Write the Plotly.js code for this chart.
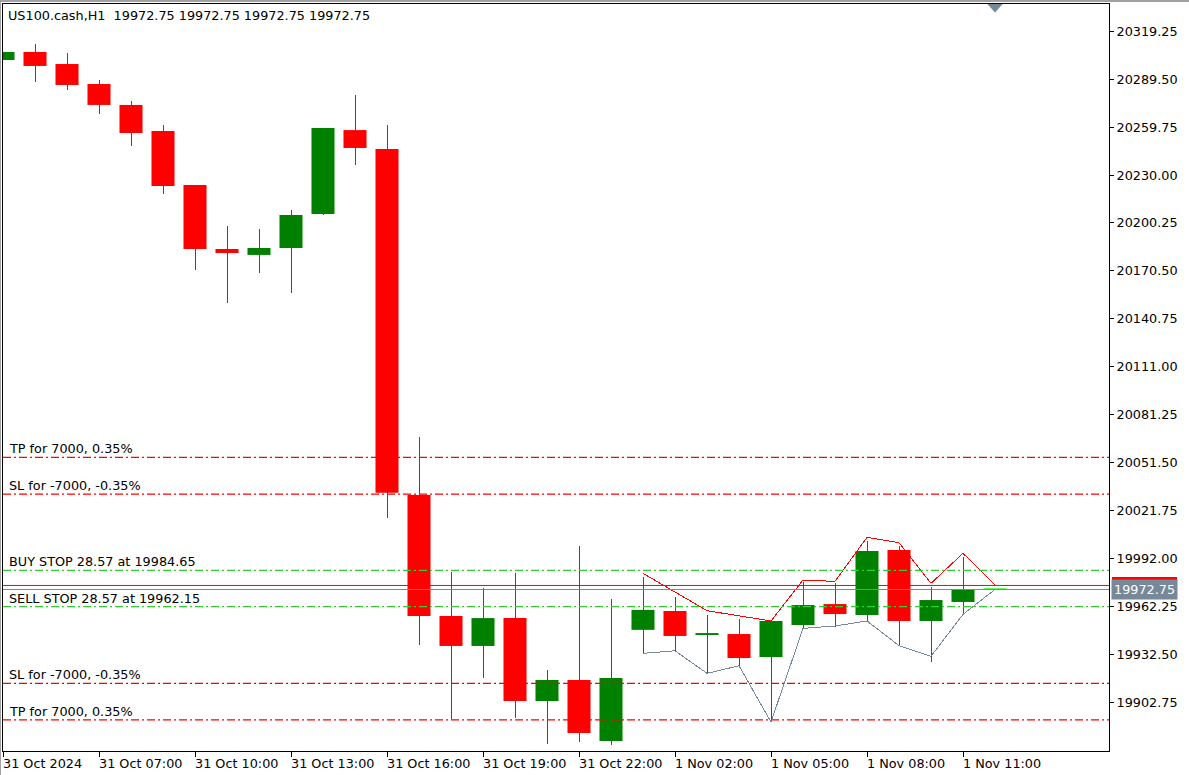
<!DOCTYPE html>
<html>
<head>
<meta charset="utf-8">
<script src="https://cdn.plot.ly/plotly-3.0.1.min.js"></script>
<style>
html, body { margin: 0; padding: 0; background: #fff; }
#chart { width: 1189px; height: 775px; }
/* pixel-sharp wicks and indicator lines like the terminal */
#chart .scatterlayer path { shape-rendering: crispEdges; }
</style>
</head>
<body>
<div id="chart"></div>
<script>
// H1 bars, US100.cash
const openP = [20301.4, 20306.4, 20298.9, 20286.5, 20273.5, 20257.3, 20223.8, 20184.1, 20180.4, 20184.7, 20205.8, 20257.9, 20246.2, 20031.4, 19956.3, 19937.7, 19955.0, 19903.5, 19916.6, 19878.7, 19947.7, 19959.4, 19944.5, 19945.1, 19930.8, 19950.7, 19963.7, 19956.9, 19997.3, 19953.2, 19965.0, 19972.75];
const highP = [20306.4, 20311.3, 20305.7, 20289.0, 20276.0, 20261.1, 20223.8, 20198.4, 20196.5, 20208.3, 20259.2, 20279.7, 20261.1, 20067.4, 19983.6, 19973.7, 19983.0, 19922.8, 19999.7, 19966.8, 19980.5, 19968.1, 19956.9, 19954.5, 19953.2, 19977.4, 19976.8, 20002.8, 19999.7, 19974.3, 19992.9, 19972.75];
const lowP = [20301.4, 20287.7, 20282.8, 20267.9, 20248.0, 20218.2, 20171.1, 20150.6, 20169.2, 20156.8, 20205.2, 20236.2, 20017.3, 19938.3, 19892.4, 19917.8, 19893.0, 19876.8, 19878.1, 19876.2, 19932.7, 19934.6, 19920.3, 19925.2, 19890.7, 19948.3, 19949.5, 19952.6, 19937.7, 19928.0, 19956.9, 19972.75];
const closeP = [20306.4, 20297.7, 20285.9, 20273.5, 20256.1, 20223.2, 20184.1, 20181.6, 20184.7, 20205.2, 20259.2, 20246.8, 20032.8, 19956.3, 19937.7, 19955.0, 19903.5, 19916.6, 19883.7, 19917.8, 19960.1, 19943.9, 19945.7, 19930.2, 19953.2, 19963.1, 19957.5, 19996.6, 19953.2, 19966.2, 19972.5, 19972.75];

// indicator lines on the last bars
const upperIdx = [20, 22, 24, 25, 26, 27, 28, 29, 30, 31];
const upperVals = [19982.8, 19959.6, 19953.2, 19978.6, 19977.8, 20005.1, 20001.8, 19976.6, 19995.2, 19975.7];
const lowerIdx = [20, 21, 22, 23, 24, 25, 26, 27, 28, 29, 30, 31];
const lowerVals = [19933.1, 19934.7, 19920.7, 19925.4, 19890.5, 19948.6, 19950.1, 19953.2, 19937.9, 19931.3, 19957.3, 19972.75];

// order levels
const levelNames = ['TP for 7000, 0.35%', 'SL for -7000, -0.35%', 'BUY STOP 28.57 at 19984.65', 'SELL STOP 28.57 at 19962.15', 'SL for -7000, -0.35%', 'TP for 7000, 0.35%'];
const levelPrices = [20054.8, 20032.0, 19984.65, 19962.15, 19914.5, 19891.8];
const levelKinds = ['tp', 'sl', 'stop', 'stop', 'sl', 'tp'];

const bid = 19972.75;
const ask = 19975.25;

const xTickText = ['31 Oct 2024', '31 Oct 07:00', '31 Oct 10:00', '31 Oct 13:00', '31 Oct 16:00', '31 Oct 19:00', '31 Oct 22:00', '1 Nov 02:00', '1 Nov 05:00', '1 Nov 08:00', '1 Nov 11:00'];
const yTicks = [20319.25, 20289.50, 20259.75, 20230.00, 20200.25, 20170.50, 20140.75, 20111.00, 20081.25, 20051.50, 20021.75, 19992.00, 19962.25, 19932.50, 19902.75];

const UP = '#008000', DOWN = '#FF0000', DOJI = '#00FF00';
const FONT = 'DejaVu Sans, Tahoma, sans-serif';
const FS = 12.8;

const idx = openP.map((_, i) => i);
const bodyColor = idx.map(i => closeP[i] > openP[i] ? UP : (closeP[i] < openP[i] ? DOWN : DOJI));

// wicks, one trace per colour
function wickTrace(color) {
    const x = [], y = [];
    idx.forEach(i => {
        if (bodyColor[i] !== color) return;
        x.push(i, i, null);
        y.push(lowP[i], highP[i], null);
    });
    return { x, y, type: 'scatter', mode: 'lines', line: { color, width: 1 }, hoverinfo: 'skip', showlegend: false };
}

const bodies = {
    x: idx,
    base: idx.map(i => Math.min(openP[i], closeP[i])),
    y: idx.map(i => Math.max(Math.abs(closeP[i] - openP[i]), 0.7)),
    type: 'bar',
    width: 0.72,
    marker: { color: bodyColor, line: { width: 0 } },
    hoverinfo: 'skip',
    showlegend: false
};

const upperLine = { x: upperIdx, y: upperVals, type: 'scatter', mode: 'lines', line: { color: '#FF0000', width: 1 }, hoverinfo: 'skip', showlegend: false };
const lowerLine = { x: lowerIdx, y: lowerVals, type: 'scatter', mode: 'lines', line: { color: '#778899', width: 1 }, hoverinfo: 'skip', showlegend: false };

const PW = 1106, PH = 747; // plot area in px
const shapes = [];
const annotations = [];

// window frame (grey strip on top and left)
shapes.push({ type: 'rect', xref: 'paper', yref: 'paper', x0: -3 / PW, x1: 1 + 80 / PW, y0: 1 + 2 / PH, y1: 1 + 4 / PH, fillcolor: '#a0a0a0', line: { width: 0 } });
shapes.push({ type: 'rect', xref: 'paper', yref: 'paper', x0: -3 / PW, x1: -2 / PW, y0: -24 / PH, y1: 1 + 4 / PH, fillcolor: '#a0a0a0', line: { width: 0 } });

levelPrices.forEach((p, k) => {
    const col = levelKinds[k] === 'stop' ? '#32CD32' : '#FF0000';
    shapes.push({ type: 'line', xref: 'paper', x0: 0, x1: 1, yref: 'y', y0: p, y1: p, line: { color: col, width: 1.2, dash: '8px,3px,2px,3px' } });
    annotations.push({ xref: 'paper', x: 0, xanchor: 'left', xshift: 4, yref: 'y', y: p, yanchor: 'bottom', yshift: -1,
        text: levelNames[k], showarrow: false, font: { family: FONT, size: FS, color: '#000' } });
});

// ask / bid lines
shapes.push({ type: 'line', xref: 'paper', x0: 0, x1: 1, yref: 'y', y0: ask, y1: ask, line: { color: '#FF0000', width: 1 } });
shapes.push({ type: 'line', xref: 'paper', x0: 0, x1: 1, yref: 'y', y0: bid, y1: bid, line: { color: '#778899', width: 1 } });

// ask price box, mostly hidden behind the bid box
shapes.push({ type: 'rect', xref: 'paper', x0: 1 + 3 / PW, x1: 1 + 68 / PW, yref: 'y', y0: ask - 5.3, y1: ask + 5.3, fillcolor: '#FF0000', line: { width: 0 } });

// chart shift marker
shapes.push({ type: 'path', xref: 'x', yref: 'paper', path: 'M 30.76 1 L 31.24 1 L 31 0.9886 Z', fillcolor: '#778899', line: { width: 0 } });

annotations.push({ xref: 'paper', x: 1, xanchor: 'left', xshift: 2, yref: 'y', y: bid, yanchor: 'middle',
    text: bid.toFixed(2), showarrow: false, bgcolor: '#778899', borderpad: 2, font: { family: FONT, size: FS, color: '#fff' } });

// time labels, left aligned on their tick like the terminal does
xTickText.forEach((t, k) => {
    annotations.push({ xref: 'x', x: k * 3, xanchor: 'left', xshift: -2, yref: 'paper', y: 0, yanchor: 'top', yshift: -3,
        text: t, showarrow: false, font: { family: FONT, size: FS, color: '#000' } });
});

annotations.push({ xref: 'paper', x: 0, xanchor: 'left', xshift: 3, yref: 'paper', y: 1, yanchor: 'top', yshift: -2,
    text: 'US100.cash,H1\u00a0\u00a0' + [openP, highP, lowP, closeP].map(a => a[a.length - 1].toFixed(2)).join(' '),
    showarrow: false, font: { family: FONT, size: FS, color: '#000' } });

const layout = {
    width: 1189,
    height: 775,
    margin: { l: 3, r: 80, t: 4, b: 24 },
    paper_bgcolor: '#fff',
    plot_bgcolor: '#fff',
    showlegend: false,
    hovermode: false,
    xaxis: {
        range: [0, 34.5625],
        tickvals: xTickText.map((_, k) => k * 3),
        showticklabels: false,
        ticks: 'outside', ticklen: 5, tickcolor: '#000',
        showgrid: false, zeroline: false,
        showline: true, linecolor: '#000', linewidth: 1, mirror: true
    },
    yaxis: {
        side: 'right',
        range: [19872.5, 20336.16],
        tickvals: yTicks,
        ticktext: yTicks.map(v => v.toFixed(2)),
        ticks: 'outside', ticklen: 4, tickcolor: '#000',
        tickfont: { family: FONT, size: FS, color: '#000' },
        showgrid: false, zeroline: false,
        showline: true, linecolor: '#000', linewidth: 1, mirror: true
    },
    shapes,
    annotations
};

Plotly.newPlot('chart', [wickTrace(DOWN), wickTrace(UP), wickTrace(DOJI), bodies, upperLine, lowerLine], layout, { staticPlot: true });
</script>
</body>
</html>
